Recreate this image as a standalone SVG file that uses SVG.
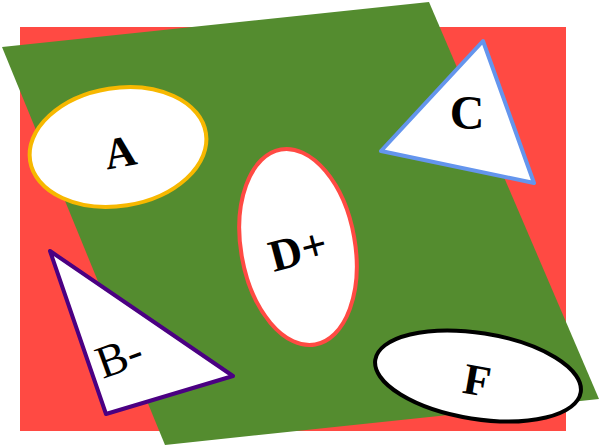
<svg xmlns="http://www.w3.org/2000/svg" width="600" height="447" viewBox="0 0 600 447">
<style>
.node{fill:#ffffff;stroke-width:4;stroke-linejoin:round}
.lbl{font-family:'Liberation Serif',serif;fill:#000;text-anchor:middle}
.b{font-weight:bold}
</style>
<g id="background">
<rect x="20" y="27" width="546" height="404" fill="#ff4a43"/>
<polygon points="2,47 429,2 599,399 165,445" fill="#548c2f"/>
</g>
<g id="A">
<ellipse class="node" cx="118" cy="147" rx="89" ry="59" transform="rotate(-9 118 147)" stroke="#f7b800"/>
<text class="lbl b" x="120" y="167" font-size="44" transform="rotate(-10 120 152)">A</text>
</g>
<g id="C">
<polygon class="node" points="381,151 483,41 534,183" stroke="#6495ed"/>
<text class="lbl b" x="467" y="129" font-size="48">C</text>
</g>
<g id="Dplus">
<ellipse class="node" cx="298" cy="247" rx="57" ry="99" transform="rotate(-10 298 247)" stroke="#ff4a43"/>
<text class="lbl b" x="298" y="265" font-size="45" transform="rotate(-15 298 250)">D+</text>
</g>
<g id="Bminus">
<polygon class="node" points="50,251 233,376 106,414" stroke="#4b0082"/>
<text class="lbl" x="119" y="372" font-size="46" transform="rotate(-20 119 356)">B-</text>
</g>
<g id="F">
<ellipse class="node" cx="478" cy="376" rx="104" ry="43" transform="rotate(9 478 376)" stroke="#000000"/>
<text class="lbl b" x="477" y="395" font-size="44" transform="rotate(10 477 381)">F</text>
</g>
</svg>
